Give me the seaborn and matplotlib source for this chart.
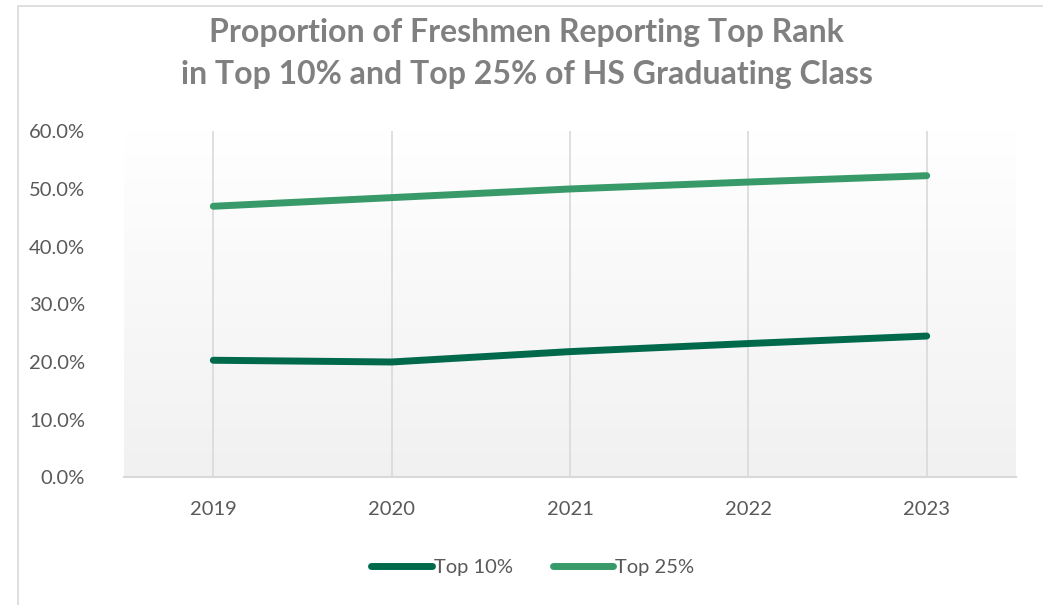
import numpy as np
import pandas as pd
import matplotlib
matplotlib.use("Agg")
import matplotlib.pyplot as plt
import seaborn as sns
from matplotlib.ticker import FuncFormatter
from matplotlib.lines import Line2D

years = ["2019", "2020", "2021", "2022", "2023"]
top10 = [20.3, 20.0, 21.8, 23.2, 24.5]
top25 = [47.0, 48.5, 50.0, 51.2, 52.3]
series = ["Top 10%", "Top 25%"]
colors = ["#00694B", "#379A68"]

df = pd.DataFrame({
    "year": years * 2,
    "value": top10 + top25,
    "series": [series[0]] * len(years) + [series[1]] * len(years),
})

sns.set_theme(style="white")
plt.rcParams["font.family"] = ["Lato", "DejaVu Sans"]

fig = plt.figure(figsize=(10.43, 6.05), dpi=100)
ax = fig.add_axes([0.119, 0.211, 0.855, 0.572])

# gradient plot area (white at top -> light gray at bottom)
grad = np.linspace(0, 1, 256).reshape(-1, 1)
ax.imshow(grad, extent=(-0.5, 4.5, 0, 60), aspect="auto", origin="upper",
          cmap=matplotlib.colors.LinearSegmentedColormap.from_list(
              "bg", ["#ffffff", "#f1f1f1"]), zorder=0)

sns.lineplot(data=df, x="year", y="value", hue="series", palette=colors,
             linewidth=5, solid_capstyle="round", ax=ax, zorder=3,
             legend=False)

ax.set_xlim(-0.5, 4.5)
ax.set_ylim(0, 60)
ax.set_yticks(range(0, 61, 10))
ax.yaxis.set_major_formatter(FuncFormatter(lambda v, p: f"{v:.1f}%"))
ax.set_xlabel("")
ax.set_ylabel("")

for i in range(len(years)):
    ax.axvline(i, color="#d9d9d9", lw=1.2, zorder=1)

for s in ["top", "right", "left"]:
    ax.spines[s].set_visible(False)
ax.spines["bottom"].set_color("#d9d9d9")
ax.spines["bottom"].set_linewidth(1.5)
ax.tick_params(axis="both", length=0, labelsize=14.5, colors="#595959")
ax.tick_params(axis="x", pad=17)
ax.tick_params(axis="y", pad=28)

fig.text(0.505, 0.911, "Proportion of Freshmen Reporting Top Rank\n"
         "in Top 10% and Top 25% of HS Graduating Class",
         ha="center", va="center", fontsize=23, fontweight="bold",
         color="#808080", linespacing=1.55)

# legend
handles = [Line2D([0], [0], color=c, lw=5, solid_capstyle="round") for c in colors]
fig.legend(handles, series, loc="center", bbox_to_anchor=(0.511, 0.062),
           ncol=2, frameon=False, fontsize=14.5, handlelength=3.0,
           handletextpad=0.1, columnspacing=2.0, labelcolor="#595959")

# outer chart border
fig.add_artist(plt.Rectangle((0.017, -0.01), 1.0, 1.0, transform=fig.transFigure,
                             fill=False, edgecolor="#d9d9d9", lw=1.2))

fig.savefig("out.png", dpi=100)
